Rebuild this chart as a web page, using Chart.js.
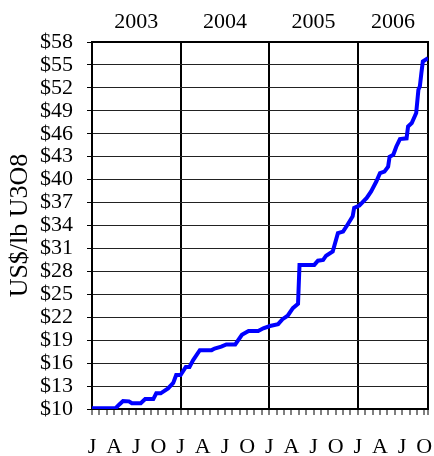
<!DOCTYPE html>
<html>
<head>
<meta charset="utf-8">
<script src="https://cdn.jsdelivr.net/npm/chart.js@4/dist/chart.umd.min.js"></script>
<style>
  html, body { margin: 0; padding: 0; background: #fff; }
  #wrap { width: 434px; height: 456px; }
</style>
</head>
<body>
<div id="wrap"><canvas id="priceChart"></canvas></div>
<script>
// months counted from Jan 2003 (0 = Jan 2003)
let months = [0, 3.2, 3.7, 4.2, 5.0, 5.4, 6.6, 7.2, 8.3, 8.7, 9.3, 10.3, 11.0, 11.4, 12.0,
    12.7, 13.2, 13.7, 14.6, 16.2, 16.6, 17.5, 18.2, 19.4, 20.3, 21.2, 22.5, 23.2, 24.1,
    25.2, 25.8, 26.5, 27.2, 27.9, 28.1, 30.1, 30.6, 31.3, 31.7, 32.6, 33.3, 34.0, 34.6,
    35.3, 35.5, 36.2, 37.2, 37.8, 38.5, 39.0, 39.6, 40.1, 40.3, 40.8, 41.2, 41.7, 42.6,
    42.8, 43.3, 43.9, 44.2, 44.4, 44.6, 44.8, 45.5];
// spot price, US$/lb U3O8
let prices = [10.1, 10.1, 10.6, 11.05, 11.0, 10.75, 10.75, 11.3, 11.3, 12.05, 12.05, 12.7, 13.4, 14.45, 14.45,
    15.5, 15.5, 16.4, 17.7, 17.7, 17.9, 18.15, 18.45, 18.45, 19.7, 20.2, 20.2, 20.55, 20.85,
    21.1, 21.75, 22.2, 23.2, 23.75, 28.85, 28.85, 29.4, 29.5, 30.05, 30.6, 33.0, 33.2, 34.1,
    35.2, 36.3, 36.6, 37.6, 38.45, 39.75, 40.85, 41.05, 41.7, 43.0, 43.25, 44.3, 45.3, 45.4,
    46.95, 47.4, 48.7, 51.75, 52.2, 53.9, 55.45, 55.9];

let quarterLabels = ['J', 'A', 'J', 'O'];
let yearLabels = ['2003', '2004', '2005', '2006'];

let xMax = 45.5;
let serif = '"Liberation Serif", "Times New Roman", serif';

let points = months.map((m, i) => ({ x: m, y: prices[i] }));

// keep edge tick labels from shrinking the plot
function noSidePadding(axis) {
    axis.paddingLeft = 0;
    axis.paddingRight = 0;
}

let priceChart = new Chart(document.getElementById('priceChart'), {
    type: 'line',
    data: {
        datasets: [{
            data: points,
            borderColor: '#0000ff',
            borderWidth: 4,
            pointRadius: 0,
            tension: 0,
            fill: false
        }]
    },
    options: {
        responsive: true,
        maintainAspectRatio: false,
        animation: false,
        layout: { padding: { right: 6, top: 0, bottom: 0, left: 0 } },
        plugins: {
            legend: { display: false },
            tooltip: { enabled: false }
        },
        scales: {
            x: {
                type: 'linear',
                position: 'bottom',
                min: 0,
                max: xMax,
                afterFit: (axis) => { axis.height = 47; noSidePadding(axis); },
                // extra tick at the right end closes the frame
                afterBuildTicks: (axis) => { axis.ticks.push({ value: xMax }); },
                border: { color: '#000', width: 2 },
                grid: {
                    // only the year boundaries and the right edge cross the plot
                    color: (c) => (c.tick && ((c.tick.value % 12 === 0 && c.tick.value > 0) || c.tick.value === xMax)) ? '#000' : 'rgba(0,0,0,0)',
                    lineWidth: 2,
                    tickColor: '#000',
                    tickLength: 6,
                    tickWidth: 1
                },
                ticks: {
                    stepSize: 1,
                    autoSkip: false,
                    includeBounds: false,
                    maxRotation: 0,
                    padding: 21,
                    color: '#000',
                    font: { family: serif, size: 22, lineHeight: 1 },
                    callback: (v) => (v % 3 === 0) ? quarterLabels[(v / 3) % 4] : ''
                }
            },
            years: {
                type: 'linear',
                position: 'top',
                min: 0,
                max: xMax,
                afterFit: (axis) => { axis.height = 42; noSidePadding(axis); },
                afterBuildTicks: (axis) => {
                    axis.ticks = yearLabels.map((y, i) => ({ value: (i * 12 + Math.min(i * 12 + 12, xMax)) / 2 }));
                },
                border: { color: '#000', width: 2 },
                grid: { display: false },
                ticks: {
                    autoSkip: false,
                    maxRotation: 0,
                    padding: 1,
                    color: '#000',
                    font: { family: serif, size: 22, lineHeight: 1 },
                    callback: (v, i) => yearLabels[i]
                }
            },
            y: {
                type: 'linear',
                position: 'left',
                min: 10,
                max: 58,
                afterFit: (axis) => { axis.width = 92; },
                border: { color: '#000', width: 2 },
                grid: {
                    color: '#222',
                    lineWidth: 1,
                    tickLength: 5,
                    tickColor: '#000'
                },
                ticks: {
                    stepSize: 3,
                    autoSkip: false,
                    padding: 14,
                    color: '#000',
                    font: { family: serif, size: 22 },
                    callback: (v) => '$' + v
                },
                title: {
                    display: true,
                    text: 'US$/lb U3O8',
                    color: '#000',
                    padding: { top: 5, bottom: 0 },
                    font: { family: serif, size: 26 }
                }
            }
        }
    }
});
</script>
</body>
</html>
